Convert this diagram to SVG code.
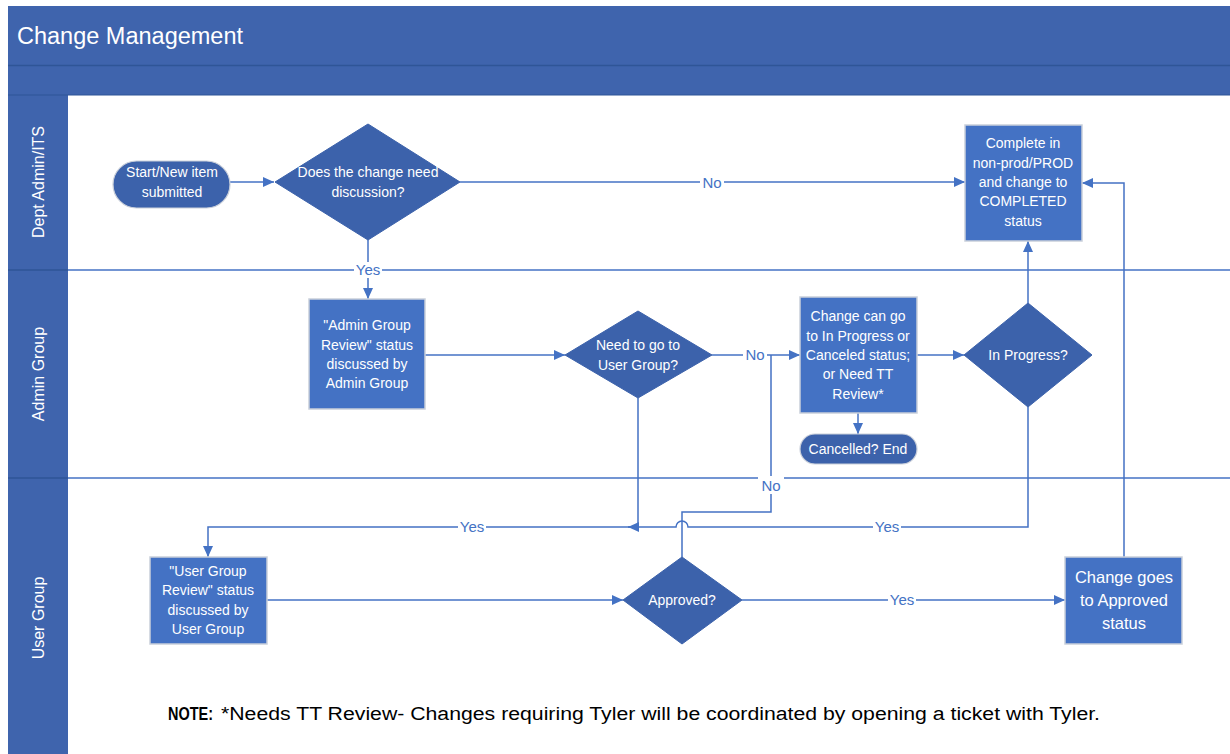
<svg xmlns="http://www.w3.org/2000/svg" width="1230" height="754" viewBox="0 0 1230 754">
<defs>
<style>
.hdr{fill:#3F64AD}
.lanecol{fill:#3F64AD}
.box{fill:#4472C4;stroke:#C9CFDA;stroke-width:1.5}
.dia{fill:#3C62AB;stroke:#3C62AB;stroke-width:1}
.term{fill:#3C62AB;stroke:#C9CFDA;stroke-width:1.2}
.t{font-family:"Liberation Sans",Arial,sans-serif;font-size:14px;fill:#FFFFFF;text-anchor:middle}
.lane{font-family:"Liberation Sans",Arial,sans-serif;font-size:16px;fill:#FFFFFF;text-anchor:middle}
.c{fill:none;stroke:#4472C4;stroke-width:1.5}
.lbl{font-family:"Liberation Sans",Arial,sans-serif;font-size:15px;fill:#4472C4;text-anchor:middle}
.lblbg{fill:#FFFFFF}
.sep{stroke:#4472C4;stroke-width:1.5}
</style>
<marker id="arr" markerUnits="userSpaceOnUse" markerWidth="12" markerHeight="10" refX="11" refY="5" orient="auto">
<path d="M0,0 L11,5 L0,10 z" fill="#4472C4"/>
</marker>
</defs>
<rect x="0" y="0" width="1230" height="754" fill="#FFFFFF"/>
<g id="header">
<rect class="hdr" x="8" y="6" width="1222" height="89"/>
<line x1="8" y1="65.5" x2="1230" y2="65.5" stroke="#2F5597" stroke-width="1.5"/>
<text x="17" y="44" font-family="'Liberation Sans',Arial,sans-serif" font-size="23.5px" fill="#FFFFFF">Change Management</text>
</g>
<g id="lanes">
<rect class="lanecol" x="8" y="95" width="60" height="659"/>
<line x1="8" y1="95" x2="1230" y2="95" stroke="#2F5597" stroke-width="1"/>
<line class="sep" x1="68" y1="270" x2="1230" y2="270"/>
<line class="sep" x1="68" y1="478" x2="1230" y2="478"/>
<line x1="8" y1="270" x2="68" y2="270" stroke="#2F5597" stroke-width="1.5"/>
<line x1="8" y1="478" x2="68" y2="478" stroke="#2F5597" stroke-width="1.5"/>
<text class="lane" transform="translate(44,182) rotate(-90)">Dept Admin/ITS</text>
<text class="lane" transform="translate(44,374) rotate(-90)">Admin Group</text>
<text class="lane" transform="translate(44,618) rotate(-90)">User Group</text>
</g>
<g id="connectors">
<path class="c" d="M230,182 H274" marker-end="url(#arr)"/>
<path class="c" d="M460,182 H965" marker-end="url(#arr)"/>
<path class="c" d="M368,240 V299" marker-end="url(#arr)"/>
<path class="c" d="M425,355 H565" marker-end="url(#arr)"/>
<path class="c" d="M712,355 H800" marker-end="url(#arr)"/>
<path class="c" d="M638,398 V527 H208 V557" marker-end="url(#arr)"/>
<path class="c" d="M1028,407 V527 H688 A6,6 0 0 0 676,527 H628" marker-end="url(#arr)"/>
<path class="c" d="M682,557 V512 H771 V355"/>
<path class="c" d="M267,600 H623" marker-end="url(#arr)"/>
<path class="c" d="M742,600 H1065" marker-end="url(#arr)"/>
<path class="c" d="M1124,557 V183 H1082" marker-end="url(#arr)"/>
<path class="c" d="M1028,303 V241" marker-end="url(#arr)"/>
<path class="c" d="M858,413 V434" marker-end="url(#arr)"/>
<path class="c" d="M917,355 H964" marker-end="url(#arr)"/>
<rect class="lblbg" x="700" y="174" width="24" height="18"/>
<text class="lbl" x="712" y="188">No</text>
<rect class="lblbg" x="354" y="262" width="28" height="16"/>
<text class="lbl" x="368" y="275">Yes</text>
<rect class="lblbg" x="743" y="346" width="24" height="18"/>
<text class="lbl" x="755" y="360">No</text>
<rect class="lblbg" x="758" y="476" width="26" height="18"/>
<text class="lbl" x="771" y="491">No</text>
<rect class="lblbg" x="458" y="519" width="28" height="16"/>
<text class="lbl" x="472" y="532">Yes</text>
<rect class="lblbg" x="873" y="519" width="28" height="16"/>
<text class="lbl" x="887" y="532">Yes</text>
<rect class="lblbg" x="888" y="592" width="28" height="16"/>
<text class="lbl" x="902" y="605">Yes</text>
</g>
<g id="start">
<rect class="term" x="113" y="161" width="117" height="47" rx="23.5"/>
<text class="t" x="172" y="177">Start/New item</text>
<text class="t" x="172" y="197">submitted</text>
</g>
<g id="d1">
<polygon class="dia" points="368,124 460,182 368,240 275,182"/>
<text class="t" x="368" y="177">Does the change need</text>
<text class="t" x="368" y="197">discussion?</text>
</g>
<g id="complete">
<rect class="box" x="965" y="125" width="117" height="116"/>
<text class="t" x="1023" y="148">Complete in</text>
<text class="t" x="1023" y="168">non-prod/PROD</text>
<text class="t" x="1023" y="187">and change to</text>
<text class="t" x="1023" y="206">COMPLETED</text>
<text class="t" x="1023" y="226">status</text>
</g>
<g id="adminreview">
<rect class="box" x="309" y="299" width="116" height="110"/>
<text class="t" x="367" y="330">"Admin Group</text>
<text class="t" x="367" y="350">Review" status</text>
<text class="t" x="367" y="369">discussed by</text>
<text class="t" x="367" y="388">Admin Group</text>
</g>
<g id="d2">
<polygon class="dia" points="638,311 712,355 638,398 565,355"/>
<text class="t" x="638" y="350">Need to go to</text>
<text class="t" x="638" y="370">User Group?</text>
</g>
<g id="changecango">
<rect class="box" x="800" y="297" width="117" height="116"/>
<text class="t" x="858" y="321">Change can go</text>
<text class="t" x="858" y="341">to In Progress or</text>
<text class="t" x="858" y="360">Canceled status;</text>
<text class="t" x="858" y="379">or Need TT</text>
<text class="t" x="858" y="399">Review*</text>
</g>
<g id="cancelled">
<rect class="term" x="800" y="434" width="117" height="30" rx="15"/>
<text class="t" x="858" y="454">Cancelled? End</text>
</g>
<g id="inprogress">
<polygon class="dia" points="1028,303 1092,355 1028,407 964,355"/>
<text class="t" x="1028" y="360">In Progress?</text>
</g>
<g id="userreview">
<rect class="box" x="150" y="557" width="117" height="87"/>
<text class="t" x="208" y="576">"User Group</text>
<text class="t" x="208" y="595">Review" status</text>
<text class="t" x="208" y="615">discussed by</text>
<text class="t" x="208" y="634">User Group</text>
</g>
<g id="approved">
<polygon class="dia" points="682,557 742,600 682,644 623,600"/>
<text class="t" x="682" y="605">Approved?</text>
</g>
<g id="changegoes">
<rect class="box" x="1065" y="557" width="117" height="87"/>
<text class="t" x="1124" y="583" style="font-size:16.5px">Change goes</text>
<text class="t" x="1124" y="606" style="font-size:16.5px">to Approved</text>
<text class="t" x="1124" y="629" style="font-size:16.5px">status</text>
</g>
<g id="note">
<text x="168" y="720" font-family="'Liberation Sans',Arial,sans-serif" font-size="18px" fill="#000000"><tspan font-weight="bold" textLength="45" lengthAdjust="spacingAndGlyphs">NOTE:</tspan><tspan x="221" textLength="879" lengthAdjust="spacingAndGlyphs">*Needs TT Review- Changes requiring Tyler will be coordinated by opening a ticket with Tyler.</tspan></text>
</g>
</svg>
